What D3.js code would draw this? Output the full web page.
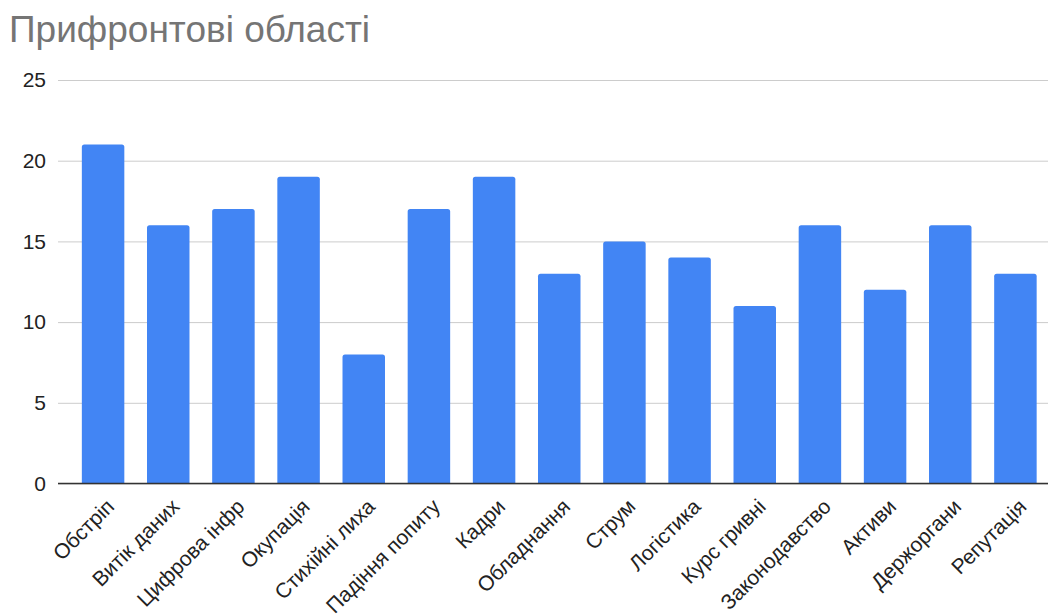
<!DOCTYPE html>
<html><head><meta charset="utf-8">
<script src="https://cdn.jsdelivr.net/npm/d3@7"></script>
<style>body{margin:0;background:#fff}svg{display:block}</style>
</head><body>
<svg id="c" width="1049" height="614"></svg>
<script>
const categories = ["Обстріп","Витік даних","Цифрова інфр","Окупація","Стихійні лиха","Падіння попиту","Кадри","Обладнання","Струм","Логістика","Курс гривні","Законодавство","Активи","Держоргани","Репутація"];
const values = [21,16,17,19,8,17,19,13,15,14,11,16,12,16,13];
const yTicks = [0,5,10,15,20,25];
const title = "Прифронтові області";

const svg = d3.select("#c");
const font = "Arial, 'Liberation Sans', sans-serif";
const y = d3.scaleLinear().domain([0,25]).range([483.5,80]);
const x = d3.scaleBand().domain(categories).range([70.5,1048]).paddingInner(0.348).paddingOuter(0.174);

svg.append("text").attr("x",9).attr("y",42).attr("font-family",font).attr("font-size",37)
  .attr("fill","#757575").text(title);

const ya = svg.append("g").attr("transform","translate(58,0)")
  .call(d3.axisLeft(y).tickValues(yTicks).tickSize(-990).tickPadding(12));
ya.select(".domain").remove();
ya.selectAll(".tick line").attr("stroke","#cccccc");
ya.selectAll(".tick text").attr("font-family",font).attr("font-size",21).attr("fill","#222");

svg.append("g").selectAll("path").data(values).join("path")
  .attr("fill","#4285f4")
  .attr("d",(d,i)=>{
    const x0=x(categories[i]), w=x.bandwidth(), y0=y(d), y1=y(0), r=2.5;
    return `M${x0},${y1}V${y0+r}Q${x0},${y0} ${x0+r},${y0}H${x0+w-r}Q${x0+w},${y0} ${x0+w},${y0+r}V${y1}Z`;
  });

svg.append("line").attr("x1",58).attr("x2",1048).attr("y1",y(0)).attr("y2",y(0)).attr("stroke","#333").attr("stroke-width",1.5);

const xa = svg.append("g").attr("transform",`translate(0,${y(0)})`)
  .call(d3.axisBottom(x).tickSize(0).tickPadding(0));
xa.select(".domain").remove();
xa.selectAll(".tick text").attr("font-family",font).attr("font-size",21).attr("fill","#222")
  .attr("text-anchor","end").attr("dy","0.7em")
  .attr("transform","translate(2,14) rotate(-45)");
</script>
</body></html>
